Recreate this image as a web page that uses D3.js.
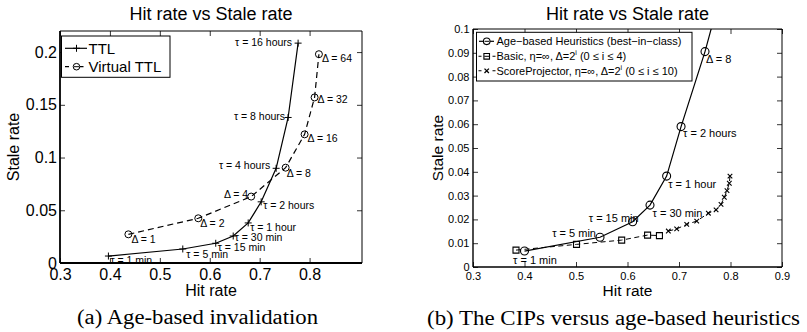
<!DOCTYPE html>
<html>
<head>
<meta charset="utf-8">
<script src="https://cdn.jsdelivr.net/npm/d3@7"></script>
<style>
  body { margin: 0; background: #fff; }
  text { font-family: "Liberation Sans", Arial, sans-serif; fill: #000; }
  .serif { font-family: "Liberation Serif", "Times New Roman", serif; }
</style>
</head>
<body>
<script>
// ---------------- DATA ----------------
// (a) Age-based invalidation
const ttlHit    = [0.397, 0.546, 0.612, 0.647, 0.677, 0.703, 0.733, 0.757, 0.777];
const ttlStale  = [0.0066, 0.0133, 0.0187, 0.0256, 0.038, 0.058, 0.0898, 0.138, 0.2085];
const ttlLabels = ["τ = 1 min", "τ = 5 min", "τ = 15 min", "τ = 30 min", "τ = 1 hour",
                   "τ = 2 hours", "τ = 4 hours", "τ = 8 hours", "τ = 16 hours"];
const vttlHit    = [0.437, 0.577, 0.683, 0.752, 0.790, 0.810, 0.8187];
const vttlStale  = [0.0272, 0.0424, 0.063, 0.0904, 0.122, 0.157, 0.198];
const vttlLabels = ["Δ = 1", "Δ = 2", "Δ = 4", "Δ = 8", "Δ = 16", "Δ = 32", "Δ = 64"];
const xTicksA = [0.3, 0.4, 0.5, 0.6, 0.7, 0.8];
const yTicksA = [0, 0.05, 0.1, 0.15, 0.2];
const legendA = ["TTL", "Virtual TTL"];

// (b) The CIPs versus age-based heuristics
const ageHit    = [0.400, 0.5466, 0.610, 0.6437, 0.676, 0.704, 0.7505, 0.790];
const ageStale  = [0.0067, 0.0125, 0.019, 0.026, 0.0382, 0.059, 0.0905, 0.122];
const ageLabels = ["τ = 1 min", "τ = 5 min", "τ = 15 min", "τ = 30 min", "τ = 1 hour",
                   "τ = 2 hours", "Δ = 8", ""];
const basicHit   = [0.3835, 0.501, 0.5887, 0.639, 0.662];
const basicStale = [0.0071, 0.0095, 0.0113, 0.0134, 0.0132];
const spHit   = [0.6793, 0.6955, 0.715, 0.7344, 0.757, 0.772, 0.7816, 0.788, 0.7932, 0.7977, 0.799];
const spStale = [0.0151, 0.016, 0.0179, 0.0193, 0.0226, 0.024, 0.0263, 0.0293, 0.0321, 0.0352, 0.0382];
const xTicksB = [0.3, 0.4, 0.5, 0.6, 0.7, 0.8, 0.9];
const yTicksB = [0, 0.01, 0.02, 0.03, 0.04, 0.05, 0.06, 0.07, 0.08, 0.09, 0.1];

const titleText = "Hit rate vs Stale rate";
const xLabelText = "Hit rate";
const yLabelText = "Stale rate";
const captionA = "(a) Age-based invalidation";
const captionB = "(b) The CIPs versus age-based heuristics";

// ---------------- LAYOUT (label offsets: [dx, dy, anchor]) ----------------
const ttlOff  = [[2,4,"start"],[3.5,5,"start"],[2,3.5,"start"],[1.5,1,"start"],[2,4,"start"],
                 [2,3.5,"start"],[-6,-3,"end"],[-3,-1.5,"end"],[-6,-1.5,"end"]];
const vttlOff = [[3,5,"start"],[2,4.5,"start"],[-3,-3,"end"],[1,5,"start"],[3,4,"start"],[3,2,"start"],[3,4,"start"]];
const ageOff  = [[-11.5,8.5,"start"],[-4,-4,"end"],[6,-3.5,"end"],[2.5,8.3,"start"],[1.5,8.3,"start"],
                 [2,6.6,"start"],[1,7.6,"start"],[0,0,"start"]];

const svg = d3.select("body").append("svg").attr("width", 807).attr("height", 332);

function plusPath(x, y, s) { return `M${x-s},${y}H${x+s}M${x},${y-s}V${y+s}`; }
function xPath(x, y, s) { return `M${x-s},${y-s}L${x+s},${y+s}M${x-s},${y+s}L${x+s},${y-s}`; }
function squarePath(x, y, s) { return `M${x-s},${y-s}H${x+s}V${y+s}H${x-s}Z`; }

function frame(g, x, y, xt, yt, fs, padX, padY, lw) {
  const [x0, x1] = x.range(), [y0, y1] = y.range();
  const fmt = d => d === 0 ? "0" : String(d);
  const ax = [
    [d3.axisBottom(x).tickValues(xt).tickSize(-5).tickPadding(padX).tickFormat(fmt), `translate(0,${y0})`],
    [d3.axisTop(x).tickValues(xt).tickSize(-5).tickFormat(""), `translate(0,${y1})`],
    [d3.axisLeft(y).tickValues(yt).tickSize(-5).tickPadding(padY).tickFormat(fmt), `translate(${x0},0)`],
    [d3.axisRight(y).tickValues(yt).tickSize(-5).tickFormat(""), `translate(${x1},0)`]
  ];
  ax.forEach(([a, tr]) => {
    const gg = g.append("g").attr("transform", tr).call(a);
    gg.select(".domain").remove();
    gg.selectAll(".tick line").attr("stroke", "#000").attr("stroke-width", 0.8);
    gg.selectAll("text").style("font-size", fs + "px").attr("fill", "#000")
      .style("font-family", '"Liberation Sans", Arial, sans-serif');
  });
  g.append("line").attr("x1", x0).attr("x2", x1).attr("y1", y1).attr("y2", y1).attr("stroke", "#000").attr("stroke-width", 1);
  g.append("line").attr("x1", x1).attr("x2", x1).attr("y1", y0).attr("y2", y1).attr("stroke", "#000").attr("stroke-width", 1);
  g.append("line").attr("x1", x0).attr("x2", x1).attr("y1", y0).attr("y2", y0).attr("stroke", "#000").attr("stroke-width", lw);
  g.append("line").attr("x1", x0).attr("x2", x0).attr("y1", y0).attr("y2", y1).attr("stroke", "#000").attr("stroke-width", lw);
}

function texts(g, x, y, xlabFs, titleFs, ylabX) {
  const [x0, x1] = x.range(), [y0, y1] = y.range();
  const cx = (x0 + x1) / 2;
  g.append("text").attr("x", cx).attr("y", 14).attr("text-anchor", "middle")
    .attr("dominant-baseline", "central").style("font-size", titleFs + "px").text(titleText);
  g.append("text").attr("x", cx).attr("y", 290).attr("text-anchor", "middle")
    .attr("dominant-baseline", "central").style("font-size", xlabFs + "px").text(xLabelText);
  g.append("text").attr("transform", `translate(${ylabX},${(y0 + y1) / 2}) rotate(-90)`)
    .attr("text-anchor", "middle").attr("dominant-baseline", "central")
    .style("font-size", xlabFs + "px").text(yLabelText);
}

function annot(g, x, y, pts, labels, offs, fs) {
  pts.forEach((p, i) => {
    if (!labels[i]) return;
    g.append("text").attr("x", x(p[0]) + offs[i][0]).attr("y", y(p[1]) + offs[i][1])
      .attr("text-anchor", offs[i][2]).attr("dominant-baseline", "central")
      .style("font-size", fs + "px").text(labels[i]);
  });
}

// ================= CHART (a) =================
const xA = d3.scaleLinear().domain([0.3, 0.905]).range([60, 362]);
const yA = d3.scaleLinear().domain([0, 0.22]).range([263, 31]);
const gA = svg.append("g");
frame(gA, xA, yA, xTicksA, yTicksA, 16, 6, 3, 1.8);
texts(gA, xA, yA, 16, 18, 13);

const lineA = d3.line().x(d => xA(d[0])).y(d => yA(d[1]));
const ttlPts = ttlHit.map((h, i) => [h, ttlStale[i]]);
const vttlPts = vttlHit.map((h, i) => [h, vttlStale[i]]);
gA.append("path").attr("d", lineA(vttlPts)).attr("fill", "none").attr("stroke", "#000")
  .attr("stroke-width", 1.2).attr("stroke-dasharray", "6,4");
gA.append("path").attr("d", lineA(ttlPts)).attr("fill", "none").attr("stroke", "#000").attr("stroke-width", 1.2);
gA.selectAll(".pm").data(ttlPts).enter().append("path")
  .attr("d", d => plusPath(xA(d[0]), yA(d[1]), 3.5)).attr("stroke", "#000").attr("stroke-width", 1);
gA.selectAll(".cm").data(vttlPts).enter().append("circle")
  .attr("cx", d => xA(d[0])).attr("cy", d => yA(d[1])).attr("r", 3.5)
  .attr("fill", "none").attr("stroke", "#000").attr("stroke-width", 1);
annot(gA, xA, yA, ttlPts, ttlLabels, ttlOff, 10.5);
annot(gA, xA, yA, vttlPts, vttlLabels, vttlOff, 10.5);

// legend (a)
gA.append("rect").attr("x", 61.5).attr("y", 36).attr("width", 108.5).attr("height", 41.3)
  .attr("fill", "#fff").attr("stroke", "#000").attr("stroke-width", 1);
gA.append("line").attr("x1", 65).attr("x2", 87).attr("y1", 48.3).attr("y2", 48.3).attr("stroke", "#000").attr("stroke-width", 1.2);
gA.append("path").attr("d", plusPath(76.5, 48.3, 3.5)).attr("stroke", "#000");
gA.append("line").attr("x1", 65).attr("x2", 87).attr("y1", 66.7).attr("y2", 66.7).attr("stroke", "#000")
  .attr("stroke-width", 1.2).attr("stroke-dasharray", "4,10.5");
gA.append("circle").attr("cx", 76.5).attr("cy", 66.7).attr("r", 3.3).attr("fill", "#fff").attr("stroke", "#000");
gA.append("line").attr("x1", 74).attr("x2", 79).attr("y1", 66.7).attr("y2", 66.7).attr("stroke", "#000");
legendA.forEach((t, i) => gA.append("text").attr("x", 88.5).attr("y", 48.3 + i * 18.4)
  .attr("dominant-baseline", "central").style("font-size", "15px").text(t));

// ================= CHART (b) =================
const xB = d3.scaleLinear().domain([0.3, 0.9]).range([473, 782]);
const yB = d3.scaleLinear().domain([0, 0.1]).range([267, 29]);
const gB = svg.append("g");
frame(gB, xB, yB, xTicksB, yTicksB, 11, 5.5, 3.5, 1.4);
texts(gB, xB, yB, 15.5, 18, 437);

svg.append("clipPath").attr("id", "clipB").append("rect")
  .attr("x", 473).attr("y", 29).attr("width", 309).attr("height", 238);
const lineB = d3.line().x(d => xB(d[0])).y(d => yB(d[1]));
const agePts = ageHit.map((h, i) => [h, ageStale[i]]);
const basicPts = basicHit.map((h, i) => [h, basicStale[i]]);
const spPts = spHit.map((h, i) => [h, spStale[i]]);
const dB = gB.append("g").attr("clip-path", "url(#clipB)");
dB.append("path").attr("d", lineB(basicPts)).attr("fill", "none").attr("stroke", "#000")
  .attr("stroke-width", 1).attr("stroke-dasharray", "5,3.5");
dB.append("path").attr("d", lineB(spPts)).attr("fill", "none").attr("stroke", "#000")
  .attr("stroke-width", 1).attr("stroke-dasharray", "5,3.5");
dB.append("path").attr("d", lineB(agePts)).attr("fill", "none").attr("stroke", "#000").attr("stroke-width", 1.2);
dB.selectAll(".ac").data(agePts).enter().append("circle")
  .attr("cx", d => xB(d[0])).attr("cy", d => yB(d[1])).attr("r", 4)
  .attr("fill", "none").attr("stroke", "#000").attr("stroke-width", 1.1);
dB.selectAll(".bs").data(basicPts).enter().append("path")
  .attr("d", d => squarePath(xB(d[0]), yB(d[1]), 3)).attr("fill", "none").attr("stroke", "#000").attr("stroke-width", 1.1);
dB.selectAll(".sx").data(spPts).enter().append("path")
  .attr("d", d => xPath(xB(d[0]), yB(d[1]), 2.3)).attr("fill", "none").attr("stroke", "#000").attr("stroke-width", 1.1);
annot(gB, xB, yB, agePts, ageLabels, ageOff, 11);

// legend (b)
gB.append("rect").attr("x", 476.5).attr("y", 32.3).attr("width", 215.5).attr("height", 48.7)
  .attr("fill", "#fff").attr("stroke", "#000").attr("stroke-width", 1);
const legB = [
  ["Age−based Heuristics (best−in−class)", null],
  ["Basic, η=∞, Δ=2", "(0 ≤ i ≤ 4)"],
  ["ScoreProjector, η=∞, Δ=2", "(0 ≤ i ≤ 10)"]
];
const legY = [41.3, 56.3, 70.8];
gB.append("line").attr("x1", 479).attr("x2", 494).attr("y1", legY[0]).attr("y2", legY[0]).attr("stroke", "#000").attr("stroke-width", 1.2);
gB.append("circle").attr("cx", 486.7).attr("cy", legY[0]).attr("r", 3.3).attr("fill", "#fff").attr("stroke", "#000").attr("stroke-width", 1.1);
gB.append("line").attr("x1", 484.5).attr("x2", 489).attr("y1", legY[0]).attr("y2", legY[0]).attr("stroke", "#000");
[1, 2].forEach(i => {
  gB.append("line").attr("x1", 478.5).attr("x2", 495.5).attr("y1", legY[i]).attr("y2", legY[i]).attr("stroke", "#000")
    .attr("stroke-width", 1.1).attr("stroke-dasharray", "3,11,3");
});
gB.append("path").attr("d", squarePath(486.7, legY[1], 2.8)).attr("fill", "none").attr("stroke", "#000").attr("stroke-width", 1.1);
gB.append("line").attr("x1", 484.3).attr("x2", 489.1).attr("y1", legY[1]).attr("y2", legY[1]).attr("stroke", "#000");
gB.append("path").attr("d", xPath(486.7, legY[2], 2.2)).attr("fill", "none").attr("stroke", "#000").attr("stroke-width", 1.3);
legB.forEach((t, i) => {
  const tx = gB.append("text").attr("x", 496.5).attr("y", legY[i]).attr("dominant-baseline", "central")
    .style("font-size", "11px");
  tx.append("tspan").text(t[0]);
  if (t[1]) {
    tx.append("tspan").attr("dy", -4).style("font-size", "7px").text("i");
    tx.append("tspan").attr("dy", 4).text(" " + t[1]);
  }
});

// captions
svg.append("text").attr("class", "serif").attr("x", 197.5).attr("y", 317).attr("text-anchor", "middle")
  .attr("dominant-baseline", "central").style("font-size", "20px")
  .attr("textLength", 241).attr("lengthAdjust", "spacingAndGlyphs").text(captionA);
svg.append("text").attr("class", "serif").attr("x", 613.5).attr("y", 318).attr("text-anchor", "middle")
  .attr("dominant-baseline", "central").style("font-size", "20px")
  .attr("textLength", 373).attr("lengthAdjust", "spacingAndGlyphs").text(captionB);
</script>
</body>
</html>
